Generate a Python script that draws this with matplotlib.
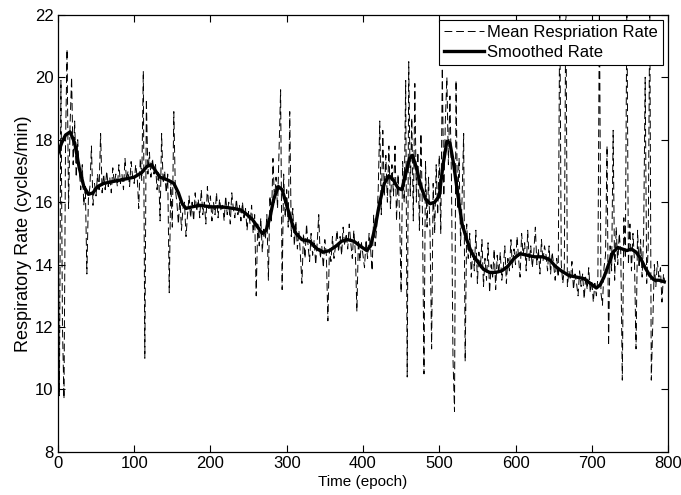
import numpy as np
import matplotlib
matplotlib.use("Agg")
import matplotlib.pyplot as plt

plt.rcParams['font.family'] = ['Liberation Sans', 'DejaVu Sans']

# Mean respiration rate, one value every 2 epochs starting at epoch 0
mean_rate = [
    17.5, 9.8, 19.9, 12.0, 9.7, 17.8, 20.9, 15.8, 18.5, 20.0,
    17.2, 18.6, 16.8, 18.0, 17.0, 16.4, 17.2, 15.9, 16.5, 13.7,
    16.1, 16.5, 17.8, 15.9, 16.6, 16.2, 16.9, 16.4, 18.2, 16.3,
    16.9, 16.4, 17.0, 16.5, 16.8, 16.3, 17.1, 16.6, 16.9, 16.5,
    17.2, 16.6, 16.9, 16.4, 17.4, 16.7, 17.0, 16.5, 17.3, 16.8,
    16.6, 17.2, 16.8, 15.8, 17.4, 16.7, 20.2, 11.0, 19.3, 16.9,
    17.6, 16.8, 17.4, 16.9, 17.2, 16.4, 17.0, 15.4, 18.2, 16.6,
    17.0, 16.3, 16.9, 13.1, 16.7, 15.2, 18.9, 16.4, 16.0, 15.3,
    16.2, 15.1, 15.8, 16.0, 14.9, 15.6, 16.2, 15.5, 16.0, 15.4,
    16.3, 15.7, 16.1, 15.5, 16.4, 15.6, 16.0, 15.3, 16.5, 15.8,
    16.2, 15.4, 16.0, 15.6, 16.3, 15.5, 16.1, 15.7, 15.9, 15.4,
    16.2, 15.6, 16.0, 15.3, 16.3, 15.8, 15.5, 16.1, 15.6, 15.9,
    15.4, 16.0, 15.5, 15.8, 15.1, 15.7, 15.3, 15.9, 15.0, 15.6,
    13.0, 15.3, 14.6, 15.5, 14.4, 15.2, 14.8, 15.6, 13.5, 16.2,
    15.4, 17.4, 16.0, 16.8, 15.8, 17.7, 19.6, 13.2, 16.9, 15.5,
    16.4, 15.2, 18.9, 14.9, 15.8, 14.6, 15.4, 14.5, 15.1, 14.3,
    13.4, 15.0, 14.2, 15.3, 14.6, 14.1, 15.0, 14.3, 14.8, 14.0,
    14.7, 15.6, 14.2, 14.6, 13.9, 14.8, 14.3, 12.2, 14.5, 14.1,
    14.9, 14.2, 14.6, 15.1, 14.4, 14.9, 14.3, 15.2, 14.6, 15.0,
    14.5, 15.3, 14.7, 14.2, 15.1, 14.4, 12.5, 14.8, 14.1, 14.7,
    14.3, 13.9, 14.8, 14.2, 15.0, 14.5, 13.8, 15.6, 14.6, 15.2,
    16.4, 18.6, 15.6, 18.3, 16.2, 17.5, 16.0, 17.8, 15.8, 17.2,
    16.2, 17.8, 15.4, 16.9, 15.6, 13.1, 17.3, 16.0, 19.9, 10.4,
    20.5, 16.2, 18.7, 15.4, 19.8, 16.0, 17.6, 15.1, 18.2, 15.6,
    10.5, 17.3, 15.2, 16.8, 14.9, 11.3, 16.6, 15.0, 17.2, 15.6,
    17.5, 15.0, 20.3, 16.2, 18.6, 20.0, 17.2, 19.4, 16.8, 11.0,
    9.3, 19.9, 15.8, 17.4, 14.6, 16.2, 18.2, 10.9, 15.3, 14.2,
    15.0, 13.6, 14.5, 13.8, 15.1, 13.4, 14.4, 13.9, 14.8, 13.3,
    14.2, 13.5, 14.7, 13.1, 14.0, 13.6, 14.5, 13.2, 14.3, 13.7,
    14.4, 13.5, 13.9, 14.6, 13.4, 14.2, 13.8, 14.8, 13.9, 14.5,
    14.0, 14.9, 14.2, 13.6, 15.0, 14.3, 14.7, 13.8, 15.1, 14.1,
    14.6, 13.9, 14.4, 15.2, 14.0, 14.5, 13.7, 14.8, 14.1, 14.6,
    14.3, 13.8, 14.6, 13.7, 14.4, 14.0, 13.5, 14.2, 13.6, 22.5,
    14.0, 13.4, 13.9, 23.0, 13.3, 13.8, 13.5, 14.1, 13.2, 13.7,
    13.4, 13.0, 13.8, 13.3, 13.7, 12.9, 13.6, 13.2, 13.9, 13.1,
    13.5, 12.8, 13.4, 13.0, 13.6, 22.5, 13.1, 12.7, 13.9, 14.3,
    17.8, 11.4, 14.6, 13.8, 18.3, 13.5, 15.2, 14.0, 15.0, 14.4,
    10.3, 15.5, 14.2, 22.5, 14.0, 15.3, 13.8, 15.0, 14.1, 11.3,
    15.1, 13.9, 14.8, 13.6, 15.0, 20.0, 13.4, 14.6, 22.5, 10.3,
    12.2, 14.0, 13.3, 14.1, 13.6, 13.9, 12.8, 13.7, 13.4,
]
mean_epochs = np.arange(0, 2 * len(mean_rate), 2)

smooth_epochs = [0, 5, 10, 16, 22, 28, 34, 40, 46, 52, 60, 70, 80, 90, 100, 110, 117, 123, 128, 134,
                 145, 152, 158, 163, 168, 176, 186, 200, 215, 230, 240, 248, 255, 262, 268, 273, 278,
                 283, 289, 294, 300, 306, 312, 320, 330, 340, 348, 356, 365, 372, 380, 388, 396, 405,
                 410, 416, 422, 428, 434, 440, 446, 451, 456, 461, 465, 470, 476, 482, 488, 494, 500,
                 505, 510, 514, 519, 524, 530, 536, 542, 550, 558, 566, 574, 582, 590, 598, 606, 615,
                 625, 636, 645, 652, 660, 670, 680, 690, 698, 706, 711, 716, 722, 728, 734, 740, 746,
                 752, 758, 764, 770, 776, 782, 788, 795]
smooth_rate = [17.55, 17.9, 18.15, 18.25, 17.9, 17.1, 16.5, 16.25, 16.3, 16.5, 16.6, 16.65, 16.7, 16.75,
               16.8, 16.95, 17.15, 17.2, 17.0, 16.8, 16.7, 16.6, 16.3, 15.95, 15.8, 15.85, 15.9, 15.85,
               15.85, 15.8, 15.75, 15.6, 15.45, 15.2, 15.0, 15.1, 15.5, 16.1, 16.5, 16.4, 15.9, 15.4,
               15.0, 14.8, 14.75, 14.5, 14.4, 14.45, 14.6, 14.75, 14.8, 14.75, 14.6, 14.45, 14.6, 15.2,
               16.0, 16.6, 16.85, 16.7, 16.45, 16.4, 16.9, 17.4, 17.5, 17.1, 16.5, 16.1, 15.95, 16.0,
               16.2, 17.2, 17.95, 17.9, 17.2, 16.3, 15.3, 14.8, 14.4, 14.1, 13.85, 13.75, 13.75, 13.8,
               13.95, 14.2, 14.35, 14.3, 14.25, 14.25, 14.15, 13.95, 13.8, 13.65, 13.6, 13.55, 13.4,
               13.25, 13.35, 13.6, 14.0, 14.4, 14.55, 14.5, 14.45, 14.5, 14.4, 14.2, 13.9, 13.65, 13.5,
               13.5, 13.45]

x_ticks = [0, 100, 200, 300, 400, 500, 600, 700, 800]
y_ticks = [8, 10, 12, 14, 16, 18, 20, 22]

fig = plt.figure(figsize=(6.81, 4.95), dpi=100)
ax = fig.add_axes([0.085, 0.087, 0.896, 0.883])

ax.plot(mean_epochs, mean_rate, color='black', linestyle=(0, (8, 4)), linewidth=0.7,
        label='Mean Respriation Rate')
ax.plot(smooth_epochs, smooth_rate, color='black', linewidth=2.4, label='Smoothed Rate')

ax.set_xlim(0, 800)
ax.set_ylim(8, 22)
ax.set_xticks(x_ticks)
ax.set_yticks(y_ticks)
ax.tick_params(direction='in', top=True, right=True, length=5, width=0.8, labelsize=12, pad=3)
for s in ax.spines.values():
    s.set_linewidth(0.9)

ax.set_xlabel('Time (epoch)', fontsize=11, labelpad=3)
ax.set_ylabel('Respiratory Rate (cycles/min)', fontsize=13, labelpad=2)

leg = ax.legend(loc='upper right', fontsize=12, frameon=True, fancybox=False,
                edgecolor='black', framealpha=1, borderaxespad=0.3, handlelength=2.4,
                handletextpad=0.2, borderpad=0.3, labelspacing=0.3)
leg.get_frame().set_linewidth(0.8)

fig.savefig('out.png', dpi=100)
